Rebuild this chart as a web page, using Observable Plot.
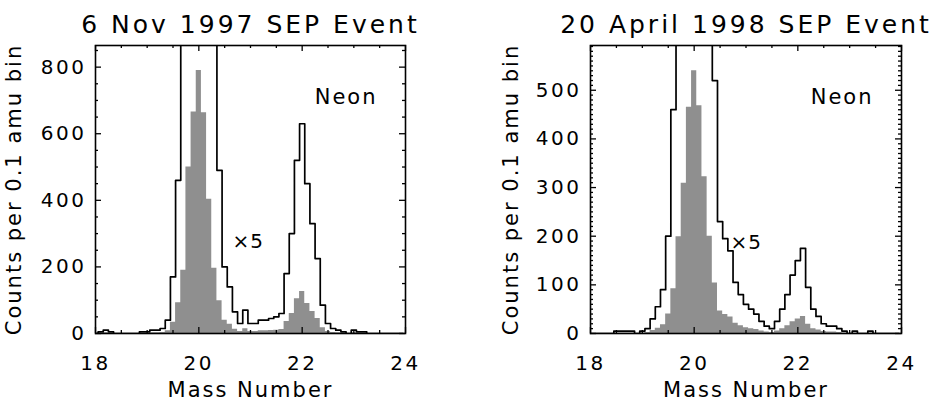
<!DOCTYPE html>
<html>
<head>
<meta charset="utf-8">
<script src="https://cdn.jsdelivr.net/npm/d3@7"></script>
<script src="https://cdn.jsdelivr.net/npm/@observablehq/plot@0.6"></script>
<style>
  body { margin: 0; background: #fff; }
  #charts { display: flex; width: 937px; height: 401px; }
  #charts svg text { font-family: "DejaVu Sans", sans-serif; fill: #000; }
</style>
</head>
<body>
<div id="charts"></div>
<script>
// Mass bins (0.1 amu wide, labelled by bin centre)
const massBins = [
  18.0, 18.1, 18.2, 18.3, 18.4, 18.5, 18.6, 18.7, 18.8, 18.9,
  19.0, 19.1, 19.2, 19.3, 19.4, 19.5, 19.6, 19.7, 19.8, 19.9,
  20.0, 20.1, 20.2, 20.3, 20.4, 20.5, 20.6, 20.7, 20.8, 20.9,
  21.0, 21.1, 21.2, 21.3, 21.4, 21.5, 21.6, 21.7, 21.8, 21.9,
  22.0, 22.1, 22.2, 22.3, 22.4, 22.5, 22.6, 22.7, 22.8, 22.9,
  23.0, 23.1, 23.2, 23.3, 23.4, 23.5, 23.6, 23.7, 23.8, 23.9
];

// Neon counts per bin, 6 Nov 1997 event
const nov1997Counts = [
  0, 1, 2, 1, 0, 0, 0, 0, 0, 1,
  1, 2, 2, 3, 8, 34, 92, 190, 500, 665,
  790, 663, 403, 196, 98, 40, 28, 13, 6, 14,
  6, 6, 8, 8, 9, 10, 12, 36, 60, 104,
  126, 90, 66, 45, 17, 6, 3, 2, 1, 0,
  2, 1, 1, 0, 0, 0, 0, 0, 0, 0
];

// Neon counts per bin, 20 April 1998 event
const apr1998Counts = [
  0, 0, 0, 0, 0, 1, 1, 1, 1, 0,
  1, 2, 6, 11, 18, 40, 92, 199, 309, 465,
  540, 468, 322, 200, 104, 46, 39, 34, 21, 16,
  12, 10, 8, 5, 3, 2, 5, 10, 16, 24,
  30, 35, 19, 10, 7, 4, 3, 3, 2, 1,
  0, 1, 0, 0, 1, 0, 0, 0, 0, 0
];

// The outlined histogram is the same counts multiplied by this factor
const scaleFactor = 5;
const scaleLabel = "\u00d75";

const panelTitles = ["6 Nov 1997 SEP Event", "20 April 1998 SEP Event"];
const elementLabel = "Neon";
const xTitle = "Mass Number";
const yTitle = "Counts per 0.1 amu bin";

const xMajorTicks = [18, 20, 22, 24];
const novYMajorTicks = [0, 200, 400, 600, 800];
const aprYMajorTicks = [0, 100, 200, 300, 400, 500];

// Position of the "x5" note, in data units
const novScaleNote = [{mass: 20.65, count: 258}];
const aprScaleNote = [{mass: 20.70, count: 174}];

const binHalf = 0.05;
const barFill = "#8f8f8f";

// letter spacing used to widen the plotter-style lettering
const spacing = new Map([
  ["panel-title", 3], ["axis-title", 2], ["element", 2], ["tick", 2.5], ["note", 1]
]);

// stepped outline of a histogram: each bin contributes its two edges
function steps(counts, factor) {
  return massBins.flatMap((m, i) => [
    {x: m - binHalf, y: counts[i] * factor},
    {x: m + binHalf, y: counts[i] * factor}
  ]);
}

function panel({counts, title, yMax, yMajor, yMinorStep, note, width, marginLeft, marginRight, yTitleDx}) {
  const height = 401, marginTop = 45, marginBottom = 68;
  const frameH = height - marginTop - marginBottom;
  const frameW = width - marginLeft - marginRight;
  const majorLen = 6, minorLen = 3;

  const xMinor = d3.range(18, 24.001, 0.5).filter(v => !xMajorTicks.includes(v));
  const yMinor = d3.range(0, yMax, yMinorStep).filter(v => !yMajor.includes(v));

  const tickStyle = {stroke: "#000", strokeWidth: 1.3};

  const svg = Plot.plot({
    width, height, marginTop, marginBottom, marginLeft, marginRight,
    style: {background: "#fff", overflow: "visible"},
    x: {domain: [18, 24], axis: null},
    y: {domain: [0, yMax], axis: null},
    marks: [
      // filled histogram (no stacking: explicit baseline)
      Plot.area(steps(counts, 1), {x1: "x", y1: 0, y2: "y", fill: barFill, clip: true}),
      Plot.line(steps(counts, scaleFactor), {x: "x", y: "y", stroke: "#000", strokeWidth: 1.7, clip: true}),
      // inward ticks on all four sides
      Plot.tickX(xMajorTicks, {x: d => d, insetBottom: frameH - majorLen, ...tickStyle}),
      Plot.tickX(xMajorTicks, {x: d => d, insetTop: frameH - majorLen, ...tickStyle}),
      Plot.tickX(xMinor, {x: d => d, insetBottom: frameH - minorLen, ...tickStyle}),
      Plot.tickX(xMinor, {x: d => d, insetTop: frameH - minorLen, ...tickStyle}),
      Plot.tickY(yMajor, {y: d => d, insetRight: frameW - majorLen, ...tickStyle}),
      Plot.tickY(yMajor, {y: d => d, insetLeft: frameW - majorLen, ...tickStyle}),
      Plot.tickY(yMinor, {y: d => d, insetRight: frameW - minorLen, ...tickStyle}),
      Plot.tickY(yMinor, {y: d => d, insetLeft: frameW - minorLen, ...tickStyle}),
      Plot.axisX({ticks: xMajorTicks, tickSize: 0, tickPadding: 22, fontSize: 20, tickFormat: d => String(d), label: null}),
      Plot.axisY({ticks: yMajor, tickSize: 0, tickPadding: 9, fontSize: 20, tickFormat: d => String(d), label: null}),
      Plot.frame({stroke: "#000", strokeWidth: 1.6}),
      Plot.text([title], {frameAnchor: "top", lineAnchor: "bottom", dy: -13, fontSize: 25}),
      Plot.text([elementLabel], {frameAnchor: "top-right", textAnchor: "end", lineAnchor: "bottom", dx: -28, dy: 58, fontSize: 21}),
      Plot.text(note, {x: "mass", y: "count", text: () => scaleLabel, textAnchor: "start", lineAnchor: "bottom", fontSize: 20}),
      Plot.text([xTitle], {frameAnchor: "bottom", lineAnchor: "bottom", dy: 63, fontSize: 21}),
      Plot.text([yTitle], {frameAnchor: "left", textAnchor: "middle", rotate: -90, dx: yTitleDx, fontSize: 21})
    ]
  });

  // widen lettering by role
  const role = t => {
    if (t === title) return "panel-title";
    if (t === xTitle || t === yTitle) return "axis-title";
    if (t === elementLabel) return "element";
    if (t === scaleLabel) return "note";
    return "tick";
  };
  d3.select(svg).selectAll("text").each(function() {
    const s = spacing.get(role(this.textContent));
    if (s) this.setAttribute("letter-spacing", s);
  });
  return svg;
}

const root = document.getElementById("charts");
root.append(panel({
  counts: nov1997Counts, title: panelTitles[0], yMax: 865, yMajor: novYMajorTicks, yMinorStep: 50,
  note: novScaleNote, width: 468, marginLeft: 95, marginRight: 63, yTitleDx: -81
}));
root.append(panel({
  counts: apr1998Counts, title: panelTitles[1], yMax: 592, yMajor: aprYMajorTicks, yMinorStep: 10,
  note: aprScaleNote, width: 469, marginLeft: 122, marginRight: 36, yTitleDx: -79
}));
</script>
</body>
</html>
